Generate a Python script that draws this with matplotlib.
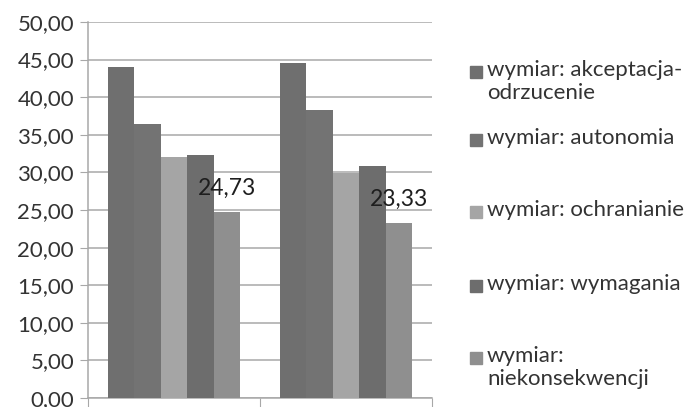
import numpy as np
import matplotlib.pyplot as plt
from matplotlib.patches import Rectangle

plt.rcParams['font.family'] = ['Lato', 'DejaVu Sans']

groups = ['', '']
series = ['wymiar: akceptacja-\nodrzucenie', 'wymiar: autonomia', 'wymiar: ochranianie',
          'wymiar: wymagania', 'wymiar:\nniekonsekwencji']
values = [
    [44.0, 44.6],
    [36.5, 38.3],
    [32.1, 29.9],
    [32.3, 30.9],
    [24.73, 23.33],
]
colors = ['#6f6f6f', '#737373', '#a5a5a5', '#6d6d6d', '#8f8f8f']
labelled = [4]

fig = plt.figure(figsize=(6.9, 4.07), dpi=100)
ax = fig.add_axes([0.1275, 0.022, 0.4985, 0.924])

x = np.arange(len(groups))
w = 0.1535
for i, vals in enumerate(values):
    pos = x + (i - 2) * w
    ax.bar(pos, vals, w, color=colors[i], zorder=3)
    if i in labelled:
        for p, v in zip(pos, vals):
            ax.text(p, v + 3.1, f'{v:.2f}'.replace('.', ','), ha='center', va='center',
                    fontsize=16.5, color='#1e1e1e', zorder=4)

ax.set_ylim(0, 50)
ax.set_xlim(-0.5, 1.5)
yt = np.arange(0, 51, 5)
ax.set_yticks(yt)
ax.set_yticklabels([f'{t:.2f}'.replace('.', ',') for t in yt], fontsize=16, color='#333333')
ax.set_xticks([-0.5, 0.5, 1.5])
ax.set_xticklabels([])
ax.yaxis.grid(True, color='#a8a8a8', lw=1.1, zorder=0)
ax.tick_params(axis='y', length=6, color='#a8a8a8', pad=4)
ax.tick_params(axis='x', length=7, color='#a8a8a8')
for s in ['top', 'right']:
    ax.spines[s].set_visible(False)
for s in ['left', 'bottom']:
    ax.spines[s].set_color('#a8a8a8')
    ax.spines[s].set_linewidth(1.1)

# legend, placed like the Excel original
leg_y = [72, 140, 212, 286, 358]
for lab, c, yy in zip(series, colors, leg_y):
    fig.patches.append(Rectangle((470 / 690, 1 - (yy + 6) / 407), 12 / 690, 12 / 407,
                                 transform=fig.transFigure, color=c))
    fig.text(487 / 690, 1 - (yy - 12) / 407, lab, fontsize=16, color='#333333',
             va='top', ha='left', linespacing=1.2)

fig.savefig('out.png', dpi=100)
